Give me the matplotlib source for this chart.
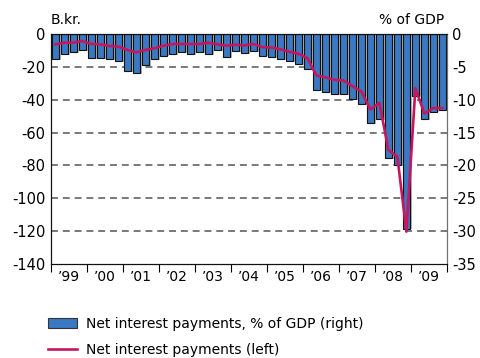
import matplotlib
matplotlib.use('Agg')
import matplotlib.pyplot as plt
from matplotlib.patches import Patch
from matplotlib.lines import Line2D

plt.rcParams['font.family'] = ['DejaVu Sans']
plt.rcParams['lines.scale_dashes'] = False
plt.rcParams['axes.unicode_minus'] = False

# Quarterly data 1999Q1 - 2009Q4
years = ["’99", "’00", "’01", "’02", "’03", "’04", "’05", "’06", "’07", "’08", "’09"]

# Net interest payments, % of GDP (right axis)
pct_gdp = [-3.8, -3.1, -2.8, -2.5, -3.7, -3.7, -3.8, -4.1,
           -5.7, -6.0, -4.7, -3.8, -3.3, -3.1, -2.8, -3.0,
           -2.7, -3.0, -2.5, -3.5, -2.6, -2.9, -2.6, -3.3,
           -3.5, -3.8, -4.1, -4.6, -5.4, -8.5, -8.8, -9.2,
           -9.2, -9.9, -10.7, -13.6, -12.9, -18.9, -19.9, -29.6,
           -9.5, -12.9, -11.8, -11.6]

# Net interest payments, billion kroner (left axis)
bkr = [-6.3, -5.3, -5.3, -4.3, -6.1, -6.3, -7.3, -7.7,
       -9.7, -11.2, -9.7, -8.7, -7.1, -6.1, -6.1, -6.1,
       -6.1, -5.3, -6.3, -7.1, -6.5, -6.9, -6.1, -8.0,
       -8.2, -9.3, -10.8, -12.0, -14.7, -25.2, -26.4, -27.9,
       -28.3, -31.7, -35.0, -45.9, -41.9, -70.6, -74.7, -120.3,
       -33.0, -48.4, -45.1, -45.1]

bar_color = '#3a78c2'
line_color = '#c4175f'

fig = plt.figure(figsize=(4.8, 3.58), dpi=100)
ax2 = fig.add_axes([0.106, 0.2626, 0.825, 0.6424])
ax = ax2.twinx()
# line axis on top of the bars, left scale for the line
ax.yaxis.tick_left()
ax.yaxis.set_label_position('left')
ax2.yaxis.tick_right()
ax.set_zorder(ax2.get_zorder() + 1)
ax.patch.set_visible(False)

x = list(range(len(pct_gdp)))

# gridlines behind bars
for g in [-5, -10, -15, -20, -25, -30]:
    ax2.axhline(g, color='#555555', lw=1.1, linestyle=(0, (5, 3.5)), zorder=0)

# bar shadows then bars
ax2.bar([v + 0.22 for v in x], [p - 0.12 for p in pct_gdp], width=0.72,
        color='#b4b4b4', linewidth=0, zorder=1)
ax2.bar(x, pct_gdp, width=0.72, color=bar_color, edgecolor='#111111',
        linewidth=0.8, zorder=2)

ax.plot(x, bkr, color=line_color, lw=1.9, solid_joinstyle='round', zorder=3)

ax.set_xlim(-0.5, 43.5)
ax.set_ylim(-140, 0)
ax2.set_ylim(-35, 0)
ax.set_yticks(range(-140, 1, 20))
ax2.set_yticks(range(-35, 1, 5))

# year separator ticks and centered labels
ax2.set_xticks([-0.5 + 4 * k for k in range(12)])
ax2.set_xticklabels([])
ax2.set_xticks([1.5 + 4 * k for k in range(11)], minor=True)
ax2.set_xticklabels(years, minor=True)
ax2.tick_params(axis='x', which='major', length=6, width=0.8, direction='out')
ax2.tick_params(axis='x', which='minor', length=0, pad=4, labelsize=10)
ax.tick_params(axis='x', which='both', length=0, labelbottom=False)

ax.tick_params(axis='y', length=0, pad=4, labelsize=10.5)
ax2.tick_params(axis='y', length=0, pad=4, labelsize=10.5)

for a in (ax, ax2):
    for s in a.spines.values():
        s.set_linewidth(0.8)
        s.set_color('#111111')
    a.spines['right'].set_color('#707070')

fig.text(0.106, 0.925, 'B.kr.', ha='left', va='bottom', fontsize=10)
fig.text(0.926, 0.925, '% of GDP', ha='right', va='bottom', fontsize=10)

handles = [Patch(facecolor=bar_color, edgecolor='#333333', linewidth=0.8),
           Line2D([0], [0], color=line_color, lw=1.9)]
labels = ['Net interest payments, % of GDP (right)', 'Net interest payments (left)']
fig.legend(handles, labels, loc='upper left', bbox_to_anchor=(0.1, 0.115),
           frameon=False, fontsize=10, handlelength=2.1, handleheight=0.7,
           handletextpad=0.6, labelspacing=0.9, borderpad=0, borderaxespad=0)

fig.savefig('out.png', dpi=100)
